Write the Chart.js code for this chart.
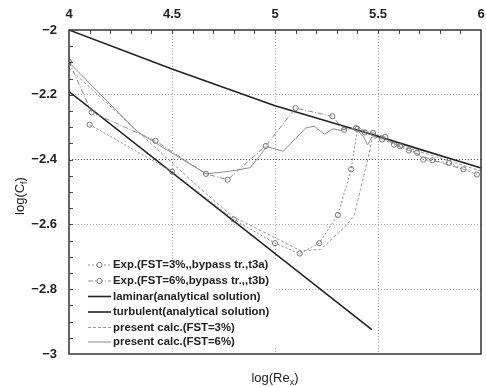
<!DOCTYPE html>
<html>
<head>
<meta charset="utf-8">
<script src="https://cdn.jsdelivr.net/npm/chart.js@4/dist/chart.umd.min.js"></script>
<style>
html,body{margin:0;padding:0;background:#fff;}
#wrap{width:486px;height:387px;position:relative;}
</style>
</head>
<body>
<div id="wrap"><canvas id="c" width="486" height="387"></canvas></div>
<script>
// ---- data ----
const xTicksMajor = [4, 4.5, 5, 5.5, 6];
const yTicks = [-3, -2.8, -2.6, -2.4, -2.2, -2];

const lamX = [4.0, 5.47];
const lamY = [-2.19, -2.925];

const turbX = [4.0, 4.5, 5.0, 5.5, 6.0];
const turbY = [-2.0, -2.12, -2.234, -2.328, -2.426];

const exp3X = [4.10, 4.50, 4.80, 5.00, 5.12, 5.215, 5.305, 5.37, 5.40, 5.436, 5.52, 5.607, 5.69, 5.72, 5.845, 5.98];
const exp3Y = [-2.292, -2.437, -2.585, -2.658, -2.69, -2.658, -2.571, -2.43, -2.305, -2.316, -2.338, -2.359, -2.379, -2.40, -2.41, -2.446];

const exp6X = [4.0, 4.11, 4.42, 4.665, 4.77, 4.955, 5.10, 5.278, 5.335, 5.393, 5.476, 5.535, 5.578, 5.65, 5.764, 5.915];
const exp6Y = [-2.098, -2.254, -2.342, -2.444, -2.462, -2.358, -2.241, -2.266, -2.308, -2.303, -2.318, -2.33, -2.354, -2.372, -2.402, -2.43];

const calc3X = [4.0, 4.3, 4.63, 4.79, 5.0, 5.126, 5.222, 5.335, 5.384, 5.415, 5.447, 5.47, 5.5, 5.6, 5.8, 6.0];
const calc3Y = [-2.118, -2.294, -2.485, -2.574, -2.641, -2.682, -2.677, -2.61, -2.574, -2.492, -2.41, -2.34, -2.33, -2.355, -2.395, -2.435];

const calc6X = [4.0, 4.33, 4.665, 4.78, 4.88, 4.93, 4.96, 5.0, 5.04, 5.10, 5.15, 5.19, 5.24, 5.28, 5.32, 5.36, 5.40, 5.43, 5.45, 5.47, 5.5, 5.7, 6.0];
const calc6Y = [-2.10, -2.313, -2.444, -2.436, -2.425, -2.385, -2.36, -2.367, -2.374, -2.335, -2.302, -2.297, -2.322, -2.305, -2.31, -2.30, -2.31, -2.33, -2.355, -2.33, -2.33, -2.37, -2.425];

const labels = [
  'Exp.(FST=3%,,bypass tr.,t3a)',
  'Exp.(FST=6%,bypass tr.,,t3b)',
  'laminar(analytical solution)',
  'turbulent(analytical solution)',
  'present calc.(FST=3%)',
  'present calc.(FST=6%)'
];

const pts = (xs, ys) => xs.map((x, i) => ({x: x, y: ys[i]}));
const FONT = '"Liberation Sans", Arial, sans-serif';

const datasets = [
  {label: labels[0], data: pts(exp3X, exp3Y), borderColor: '#8a8a8a', borderWidth: 1, borderDash: [2, 2],
   pointRadius: 2.6, pointBorderColor: '#777', pointBackgroundColor: 'rgba(255,255,255,0)', pointBorderWidth: 1},
  {label: labels[1], data: pts(exp6X, exp6Y), borderColor: '#8a8a8a', borderWidth: 1, borderDash: [5, 2, 1, 2],
   pointRadius: 2.6, pointBorderColor: '#777', pointBackgroundColor: 'rgba(255,255,255,0)', pointBorderWidth: 1},
  {label: labels[2], data: pts(lamX, lamY), borderColor: '#222', borderWidth: 1.6, pointRadius: 0},
  {label: labels[3], data: pts(turbX, turbY), borderColor: '#222', borderWidth: 1.6, pointRadius: 0},
  {label: labels[4], data: pts(calc3X, calc3Y), borderColor: '#999', borderWidth: 1, borderDash: [3, 2], pointRadius: 0},
  {label: labels[5], data: pts(calc6X, calc6Y), borderColor: '#8c8c8c', borderWidth: 1, pointRadius: 0}
];
datasets.forEach(d => { d.showLine = true; d.tension = 0; d.fill = false; });

const fmt = v => {
  const r = Math.round(v * 10) / 10;
  const s = Number.isInteger(r) ? r.toFixed(0) : r.toFixed(1);
  return s.replace('-', '\u2212');
};

const decor = {
  id: 'decor',
  afterDraw(chart) {
    const ctx = chart.ctx, a = chart.chartArea;
    const xs = chart.scales.x, ys = chart.scales.y;
    ctx.save();
    // minor ticks (inside)
    ctx.strokeStyle = '#444'; ctx.lineWidth = 1;
    ctx.beginPath();
    for (let i = 1; i < 20; i++) {
      const px = Math.round(xs.getPixelForValue(4 + i * 0.1)) + 0.5;
      ctx.moveTo(px, a.top); ctx.lineTo(px, a.top + 4);
    }
    for (let i = 1; i < 20; i++) {
      const py = Math.round(ys.getPixelForValue(-3 + i * 0.05)) + 0.5;
      ctx.moveTo(a.left, py); ctx.lineTo(a.left + 4, py);
    }
    ctx.stroke();
    // frame
    ctx.strokeStyle = '#333'; ctx.lineWidth = 1.5;
    ctx.strokeRect(a.left, a.top, a.right - a.left, a.bottom - a.top);

    // legend box
    ctx.fillStyle = '#fff';
    ctx.fillRect(80, 259, 196, 88);
    const rows = [265, 281, 296.5, 312, 327.5, 342];
    ctx.font = 'bold 11.4px ' + FONT;
    ctx.textBaseline = 'middle';
    chart.data.datasets.forEach((d, i) => {
      const y = rows[i];
      ctx.strokeStyle = d.borderColor; ctx.lineWidth = d.borderWidth;
      ctx.setLineDash(d.borderDash || []);
      ctx.beginPath(); ctx.moveTo(88, y); ctx.lineTo(111, y); ctx.stroke();
      ctx.setLineDash([]);
      if (d.pointRadius > 0) {
        ctx.fillStyle = '#fff';
        ctx.beginPath(); ctx.arc(99.5, y, 2.6, 0, Math.PI * 2); ctx.fill();
        ctx.strokeStyle = d.pointBorderColor; ctx.lineWidth = 1; ctx.stroke();
      }
      ctx.fillStyle = '#222';
      ctx.textAlign = 'left';
      ctx.fillText(d.label, 113, y);
    });

    // axis titles with subscripts
    ctx.fillStyle = '#222';
    ctx.textBaseline = 'alphabetic';
    const t1 = 'log(Re', t2 = 'x', t3 = ')';
    ctx.font = '13px ' + FONT; const w1 = ctx.measureText(t1).width;
    ctx.font = '9px ' + FONT; const w2 = ctx.measureText(t2).width;
    ctx.font = '13px ' + FONT; const w3 = ctx.measureText(t3).width;
    let sx = 275 - (w1 + w2 + w3) / 2;
    ctx.textAlign = 'left';
    ctx.fillText(t1, sx, 382);
    ctx.font = '9px ' + FONT; ctx.fillText(t2, sx + w1, 385);
    ctx.font = '13px ' + FONT; ctx.fillText(t3, sx + w1 + w2, 382);
    // y title rotated
    ctx.translate(20, 196);
    ctx.rotate(-Math.PI / 2);
    const u1 = 'log(C', u2 = 'f', u3 = ')';
    ctx.font = '13px ' + FONT; const v1 = ctx.measureText(u1).width;
    ctx.font = '9px ' + FONT; const v2 = ctx.measureText(u2).width;
    ctx.font = '13px ' + FONT; const v3 = ctx.measureText(u3).width;
    let sy = -(v1 + v2 + v3) / 2;
    ctx.fillText(u1, sy, 4);
    ctx.font = '9px ' + FONT; ctx.fillText(u2, sy + v1, 7);
    ctx.font = '13px ' + FONT; ctx.fillText(u3, sy + v1 + v2, 4);
    ctx.restore();
  }
};

new Chart(document.getElementById('c'), {
  type: 'scatter',
  data: {datasets: datasets},
  options: {
    responsive: false,
    animation: false,
    layout: {padding: {left: 0, right: 2, top: 0, bottom: 33}},
    plugins: {legend: {display: false}, tooltip: {enabled: false}},
    scales: {
      x: {
        type: 'linear', position: 'top', min: 4, max: 6,
        afterFit: s => { s.height = 30; s.paddingLeft = 0; s.paddingRight = 0; },
        afterBuildTicks: s => { s.ticks = xTicksMajor.map(v => ({value: v})); },
        ticks: {callback: v => fmt(v), font: {family: FONT, size: 13, weight: 'bold'}, color: '#222', padding: 8, maxRotation: 0, autoSkip: false},
        grid: {drawTicks: false, lineWidth: 1,
               color: c => (c.tick && (c.tick.value === 4 || c.tick.value === 6)) ? 'rgba(0,0,0,0)' : '#a8a8a8'},
        border: {display: false, dash: [1, 2]}
      },
      y: {
        type: 'linear', min: -3, max: -2,
        afterFit: s => { s.width = 69; s.paddingTop = 0; s.paddingBottom = 0; },
        afterBuildTicks: s => { s.ticks = yTicks.map(v => ({value: v})); },
        ticks: {callback: v => fmt(v), font: {family: FONT, size: 13, weight: 'bold'}, color: '#222', padding: 12, autoSkip: false},
        grid: {drawTicks: false, lineWidth: 1,
               color: c => {
                 const v = c.tick ? c.tick.value : 0;
                 if (Math.abs(v + 2) < 1e-6 || Math.abs(v + 3) < 1e-6) return 'rgba(0,0,0,0)';
                 if (Math.abs(v + 2.4) < 1e-6) return '#444';
                 return '#a8a8a8';
               }},
        border: {display: false, dash: [1, 2]}
      }
    }
  },
  plugins: [decor]
});
</script>
</body>
</html>
